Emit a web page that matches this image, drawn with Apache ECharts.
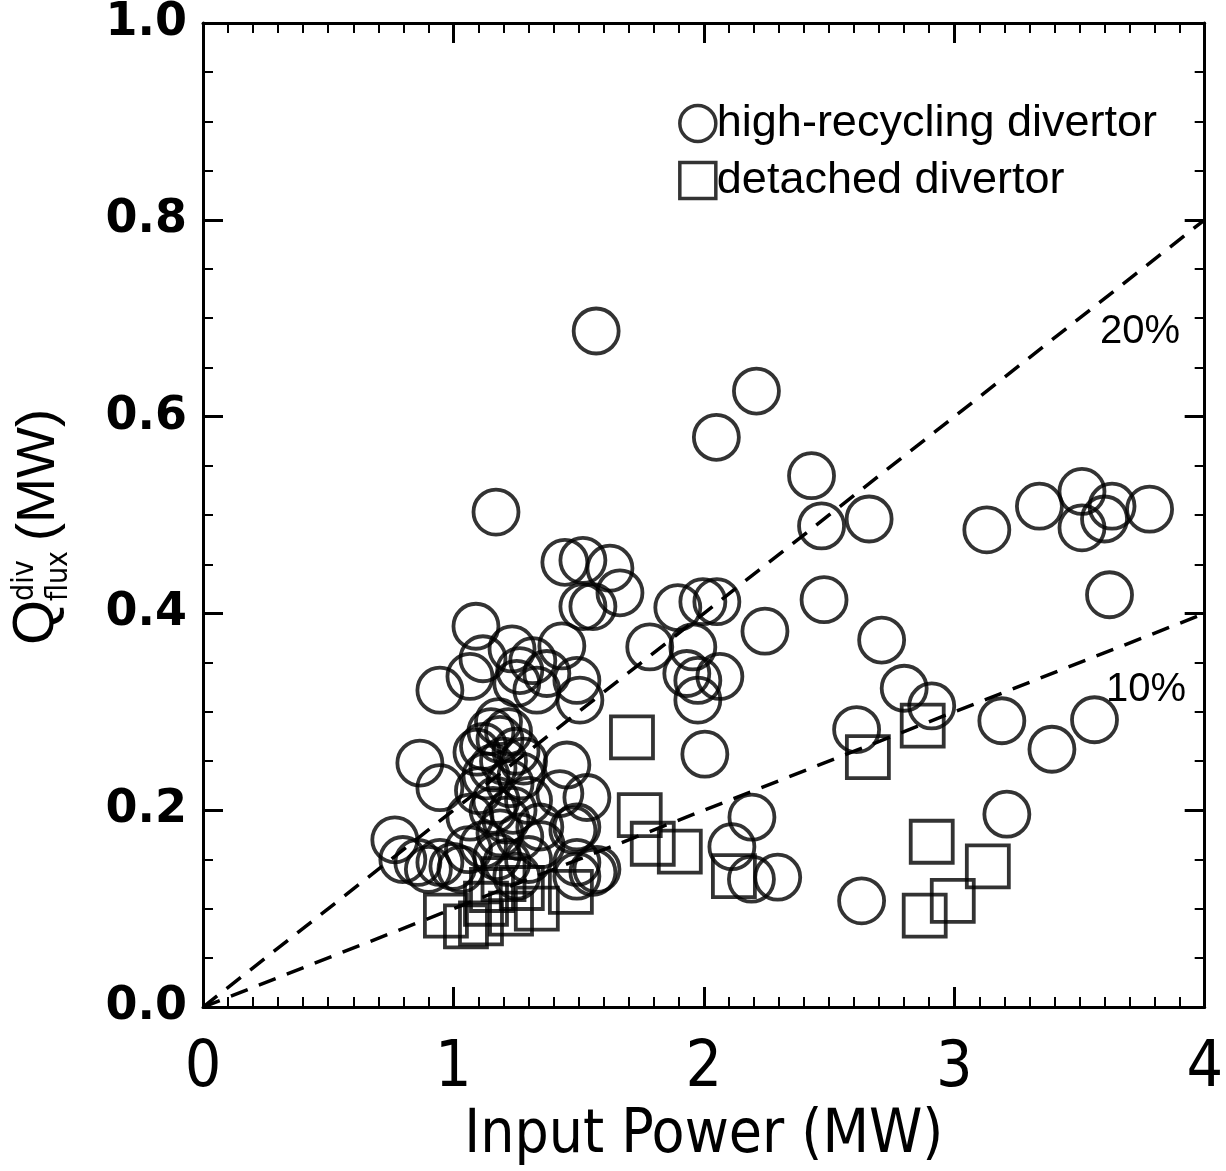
<!DOCTYPE html>
<html>
<head>
<meta charset="utf-8">
<script src="https://cdn.jsdelivr.net/npm/echarts@6/dist/echarts.min.js"></script>
<style>
  html, body { margin: 0; padding: 0; background: #fff; }
  #chart { width: 1226px; height: 1171px; }
</style>
</head>
<body>
<div id="chart"></div>
<script>
// input power (MW) vs divertor power Q_flux (MW)
var highRecycling = [
  [1.57, 0.687], [2.21, 0.626], [2.05, 0.579], [1.17, 0.503], [2.43, 0.540],
  [2.47, 0.489], [2.66, 0.496], [2.48, 0.414], [3.13, 0.485], [3.34, 0.509],
  [3.51, 0.524], [3.51, 0.487], [3.63, 0.509], [3.60, 0.496], [3.78, 0.506],
  [3.62, 0.419], [2.71, 0.373], [2.80, 0.324], [2.91, 0.306], [2.61, 0.282],
  [3.19, 0.291], [3.39, 0.262], [3.56, 0.292], [3.21, 0.196], [2.63, 0.108],
  [2.244, 0.382], [2.004, 0.257], [2.192, 0.193], [2.112, 0.163], [2.19, 0.130],
  [2.295, 0.132],
  [1.784, 0.366], [1.896, 0.406], [1.996, 0.412], [2.052, 0.412], [1.956, 0.366],
  [1.932, 0.339], [1.976, 0.332], [2.064, 0.336], [1.976, 0.312],
  [1.445, 0.452], [1.517, 0.454], [1.625, 0.446], [1.665, 0.421], [1.557, 0.407],
  [1.517, 0.407],
  [1.090, 0.387], [0.946, 0.322], [1.118, 0.354], [1.234, 0.364], [1.433, 0.367],
  [1.317, 0.352], [1.265, 0.342], [1.373, 0.339], [1.493, 0.332], [1.505, 0.312],
  [1.333, 0.322], [1.253, 0.329], [1.066, 0.336],
  [0.866, 0.248], [0.946, 0.223], [0.766, 0.170], [0.798, 0.150], [0.858, 0.147],
  [0.946, 0.147], [0.998, 0.143], [1.066, 0.193], [1.094, 0.259], [1.158, 0.243],
  [1.186, 0.272], [1.226, 0.227], [1.238, 0.200], [1.158, 0.200], [1.186, 0.177],
  [1.265, 0.173], [1.345, 0.183], [1.453, 0.246], [1.425, 0.217], [1.533, 0.213],
  [1.493, 0.183], [1.557, 0.137], [1.493, 0.147], [1.214, 0.147], [1.253, 0.133],
  [1.174, 0.153], [1.477, 0.180], [1.573, 0.140], [1.493, 0.133],
  [1.12, 0.265], [1.15, 0.280], [1.20, 0.250], [1.25, 0.260], [1.13, 0.235],
  [1.27, 0.235], [1.30, 0.210], [1.10, 0.220],
  [1.18, 0.290], [1.22, 0.280], [1.28, 0.250], [1.17, 0.210], [1.21, 0.190],
  [0.90, 0.140], [1.03, 0.140], [1.06, 0.160], [1.12, 0.165], [1.30, 0.150],
  [1.35, 0.165]
];
var detached = [
  [1.713, 0.274], [1.744, 0.195], [1.796, 0.166], [1.904, 0.158], [2.12, 0.133],
  [2.655, 0.254], [2.874, 0.286], [2.91, 0.168], [2.994, 0.108], [2.882, 0.093],
  [3.134, 0.143],
  [0.970, 0.093], [1.050, 0.082], [1.110, 0.085], [1.154, 0.119], [1.273, 0.121],
  [1.333, 0.100], [1.469, 0.117], [1.13, 0.105], [1.20, 0.130], [1.23, 0.095]
];
// reference fractions of input power
var line20 = [[0, 0], [4, 0.8]];
var line10 = [[0, 0], [4, 0.4]];
var xTicks = [0, 1, 2, 3, 4];

var narrow = "'Liberation Sans Narrow', 'DejaVu Sans Condensed', 'Liberation Sans', sans-serif";
var helv = "'Liberation Sans', Arial, sans-serif";

var chart = echarts.init(document.getElementById('chart'));

function frameAxis(pos, showLabel) {
  return {
    type: 'value',
    position: pos,
    min: 0,
    max: 4,
    interval: 1,
    axisLine: { onZero: false, lineStyle: { color: '#000', width: 3 } },
    axisTick: { inside: true, length: 20, lineStyle: { color: '#000', width: 3 } },
    minorTick: { show: true, splitNumber: 10, length: 10, lineStyle: { color: '#000', width: 2 } },
    splitLine: { show: false },
    axisLabel: {
      show: showLabel,
      color: '#000',
      fontSize: 64,
      fontFamily: narrow,
      margin: 30,
      formatter: function (v) { return xTicks.indexOf(v) >= 0 ? String(v) : ''; }
    }
  };
}

function yFrame(pos, showLabel) {
  return {
    type: 'value',
    position: pos,
    min: 0,
    max: 1,
    interval: 0.2,
    axisLine: { onZero: false, lineStyle: { color: '#000', width: 3 } },
    axisTick: { inside: true, length: 20, lineStyle: { color: '#000', width: 3 } },
    minorTick: { show: true, splitNumber: 4, length: 10, lineStyle: { color: '#000', width: 2 } },
    splitLine: { show: false },
    axisLabel: {
      show: showLabel,
      color: '#000',
      fontSize: 46,
      fontWeight: 'bold',
      fontFamily: "'DejaVu Sans', sans-serif",
      margin: 16,
      formatter: function (v) { return v.toFixed(1); }
    }
  };
}

var xBottom = frameAxis('bottom', true);
xBottom.name = 'Input Power (MW)';
xBottom.nameLocation = 'middle';
xBottom.nameGap = 98;
xBottom.nameTextStyle = { color: '#000', fontSize: 60, fontFamily: narrow };

var markerStyle = { color: 'rgba(0,0,0,0)', borderColor: '#000', borderWidth: 3.8 };

var option = {
  animation: false,
  backgroundColor: '#fff',
  grid: { left: 203, right: 21, top: 20, bottom: 151 },
  xAxis: [xBottom, frameAxis('top', false)],
  yAxis: [yFrame('left', true), yFrame('right', false)],
  legend: {
    data: ['high-recycling divertor', 'detached divertor'],
    orient: 'vertical',
    right: 64,
    top: 96,
    itemWidth: 36,
    itemHeight: 36,
    itemGap: 12,
    textStyle: { color: '#000', fontSize: 45, fontFamily: helv, padding: [0, 0, 0, -4] },
    itemStyle: { color: 'rgba(0,0,0,0)', borderColor: '#000', borderWidth: 3.5 }
  },
  series: [
    {
      name: '20%',
      type: 'line',
      data: line20,
      symbol: 'none',
      silent: true,
      lineStyle: { color: '#000', width: 3.5, type: [18, 12] }
    },
    {
      name: '10%',
      type: 'line',
      data: line10,
      symbol: 'none',
      silent: true,
      lineStyle: { color: '#000', width: 3.5, type: [18, 12] }
    },
    {
      name: 'high-recycling divertor',
      type: 'scatter',
      symbol: 'circle',
      symbolSize: 45,
      data: highRecycling,
      itemStyle: markerStyle
    },
    {
      name: 'detached divertor',
      type: 'scatter',
      symbol: 'rect',
      symbolSize: 42,
      data: detached,
      itemStyle: markerStyle
    }
  ],
  graphic: [
    { type: 'text', left: 1100, top: 312, style: { text: '20%', fontSize: 40, fill: '#000', fontFamily: helv } },
    { type: 'text', left: 1106, top: 670, style: { text: '10%', fontSize: 40, fill: '#000', fontFamily: helv } },
    {
      type: 'group',
      x: 66,
      y: 645,
      rotation: Math.PI / 2,
      children: [
        { type: 'text', x: 0, y: 0, style: { text: 'Q', fontSize: 58, fill: '#000', fontFamily: helv, verticalAlign: 'bottom' } },
        { type: 'text', x: 44, y: -26, style: { text: 'div', fontSize: 30, fill: '#000', fontFamily: narrow, verticalAlign: 'bottom' } },
        { type: 'text', x: 44, y: 8, style: { text: 'flux', fontSize: 30, fill: '#000', fontFamily: narrow, verticalAlign: 'bottom' } },
        { type: 'text', x: 104, y: 0, style: { text: '(MW)', fontSize: 54, fill: '#000', fontFamily: helv, verticalAlign: 'bottom' } }
      ]
    }
  ]
};

chart.setOption(option);
window.addEventListener('resize', function () { chart.resize(); });
</script>
</body>
</html>
